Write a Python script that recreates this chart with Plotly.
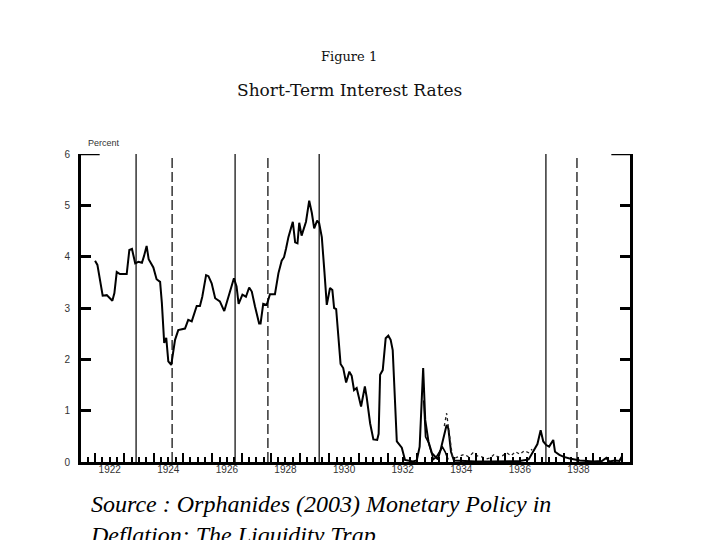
import plotly.graph_objects as go

# Main short-term rate (solid)
years_main = [1922.00, 1922.08, 1922.26, 1922.40, 1922.59, 1922.66, 1922.74, 1922.85,
              1923.08, 1923.17, 1923.26, 1923.37, 1923.48, 1923.60, 1923.67, 1923.76,
              1923.83, 1923.99, 1924.10, 1924.22, 1924.28, 1924.36, 1924.43, 1924.50,
              1924.60, 1924.73, 1924.84, 1925.07, 1925.18, 1925.30, 1925.47, 1925.58,
              1925.66, 1925.79, 1925.87, 1925.98, 1926.10, 1926.26, 1926.41, 1926.55,
              1926.74, 1926.83, 1926.90, 1927.03, 1927.15, 1927.26, 1927.35, 1927.46,
              1927.60, 1927.65, 1927.74, 1927.86, 1927.97, 1928.14, 1928.26, 1928.37,
              1928.45, 1928.52, 1928.60, 1928.75, 1928.83, 1928.91, 1928.97, 1929.05,
              1929.20, 1929.31, 1929.40, 1929.48, 1929.58, 1929.65, 1929.74, 1929.83,
              1929.91, 1930.02, 1930.10, 1930.16, 1930.23, 1930.38, 1930.47, 1930.57,
              1930.68, 1930.76, 1930.84, 1930.93, 1931.08, 1931.21, 1931.27, 1931.39,
              1931.50, 1931.63, 1931.68, 1931.73, 1931.82, 1931.92, 1932.01, 1932.09,
              1932.16, 1932.30, 1932.41, 1932.47, 1932.58, 1932.70, 1932.85, 1932.98,
              1933.08, 1933.15, 1933.20, 1933.27, 1933.38, 1933.50, 1933.60, 1933.70,
              1933.80, 1933.92, 1934.00, 1934.06, 1934.15, 1934.25, 1934.60, 1935.00,
              1935.50, 1936.00, 1936.50, 1936.80, 1936.95, 1937.10, 1937.21, 1937.30,
              1937.40, 1937.50, 1937.64, 1937.70, 1937.85, 1938.00, 1938.20, 1938.40,
              1938.55, 1938.80, 1939.00, 1939.30, 1939.45, 1939.55, 1939.75, 1939.90,
              1939.97]
rate_main = [3.92, 3.84, 3.24, 3.25, 3.14, 3.29, 3.70, 3.66,
             3.66, 4.13, 4.15, 3.87, 3.90, 3.88, 4.01, 4.21,
             3.95, 3.79, 3.56, 3.51, 3.10, 2.32, 2.42, 1.96,
             1.89, 2.38, 2.57, 2.60, 2.77, 2.74, 3.04, 3.04,
             3.22, 3.64, 3.62, 3.48, 3.19, 3.13, 2.94, 3.22,
             3.58, 3.42, 3.08, 3.26, 3.22, 3.40, 3.32, 3.03,
             2.70, 2.70, 3.08, 3.06, 3.27, 3.27, 3.68, 3.92,
             3.99, 4.16, 4.38, 4.68, 4.28, 4.26, 4.66, 4.41,
             4.68, 5.09, 4.85, 4.55, 4.70, 4.65, 4.38, 3.70,
             3.06, 3.39, 3.35, 3.00, 2.98, 1.91, 1.83, 1.55,
             1.76, 1.68, 1.40, 1.44, 1.08, 1.47, 1.27, 0.75,
             0.44, 0.43, 0.55, 1.70, 1.79, 2.41, 2.46, 2.38,
             2.18, 0.40, 0.32, 0.28, 0.04, 0.02, 0.01, 0.03,
             0.30, 1.20, 1.83, 0.82, 0.40, 0.17, 0.10, 0.05,
             0.25, 0.55, 0.72, 0.65, 0.20, 0.03, 0.02, 0.01,
             0.01, 0.02, 0.02, 0.05, 0.20, 0.35, 0.62, 0.40,
             0.33, 0.30, 0.43, 0.20, 0.14, 0.10, 0.07, 0.05,
             0.03, 0.02, 0.01, 0.02, 0.08, 0.01, 0.03, 0.02,
             0.10]

# Second solid series (1933-1934)
years_second = [1933.22, 1933.28, 1933.38, 1933.45, 1933.55, 1933.65, 1933.75, 1933.86, 1933.95, 1934.05]
rate_second = [1.20, 0.49, 0.38, 0.23, 0.05, 0.10, 0.20, 0.29, 0.20, 0.05]

# Dotted series (1934-1937)
years_dotted = [1933.92, 1934.00, 1934.08, 1934.20, 1934.30, 1934.45, 1934.60, 1934.75,
                1934.90, 1935.05, 1935.20, 1935.35, 1935.50, 1935.62, 1935.75, 1935.90,
                1936.05, 1936.20, 1936.35, 1936.50, 1936.65, 1936.80, 1936.92]
rate_dotted = [0.70, 0.95, 0.60, 0.10, 0.08, 0.12, 0.15, 0.10,
               0.18, 0.12, 0.10, 0.06, 0.08, 0.15, 0.10, 0.12,
               0.18, 0.12, 0.20, 0.15, 0.22, 0.18, 0.25]

# Business cycle dates
peaks = [1923.40, 1926.78, 1929.65, 1937.39]
troughs = [1924.63, 1927.90, 1938.45]

y_ticks = [0, 1, 2, 3, 4, 5, 6]
label_years = [1922, 1924, 1926, 1928, 1930, 1932, 1934, 1936, 1938]

x_range = [1921.52, 1940.26]

fig = go.Figure()
fig.add_trace(go.Scatter(x=years_main, y=rate_main, mode="lines",
                         line=dict(color="black", width=2), showlegend=False, hoverinfo="skip"))
fig.add_trace(go.Scatter(x=years_second, y=rate_second, mode="lines",
                         line=dict(color="black", width=1.6), showlegend=False, hoverinfo="skip"))
fig.add_trace(go.Scatter(x=years_dotted, y=rate_dotted, mode="lines",
                         line=dict(color="#222222", width=1.3, dash="dot"), showlegend=False, hoverinfo="skip"))
# invisible trace carrying the year-label axis
fig.add_trace(go.Scatter(x=[y + 0.5 for y in label_years], y=[None] * len(label_years),
                         xaxis="x2", mode="markers", showlegend=False, hoverinfo="skip"))

shapes = []
for p in peaks:
    shapes.append(dict(type="line", xref="x", yref="y", x0=p, x1=p, y0=0, y1=6,
                       line=dict(color="black", width=1.2)))
for t in troughs:
    shapes.append(dict(type="line", xref="x", yref="y", x0=t, x1=t, y0=0, y1=6,
                       line=dict(color="black", width=1.2, dash="10px,4px")))
# long ticks at the top of both y axes
shapes.append(dict(type="line", xref="paper", yref="y", x0=0, x1=0.034, y0=6, y1=6,
                   line=dict(color="black", width=2.5)))
shapes.append(dict(type="line", xref="paper", yref="y", x0=0.966, x1=1, y0=6, y1=6,
                   line=dict(color="black", width=2.5)))

# page offset (body margin) of 8 px is compensated in all positions
OFF = 8
annotations = [
    dict(text="Figure 1", x=349, y=56, xanchor="center", yanchor="middle",
         font=dict(family="DejaVu Serif", size=13, color="#111")),
    dict(text="Short-Term Interest Rates", x=349, y=90, xanchor="center", yanchor="middle",
         font=dict(family="DejaVu Serif", size=17, color="#111")),
    dict(text="Percent", x=86, y=143, xanchor="left", yanchor="middle",
         font=dict(family="Liberation Sans", size=9, color="#333")),
    dict(text="<i>Source : Orphanides (2003) Monetary Policy in<br>Deflation: The Liquidity Trap</i>",
         x=88, y=489, xanchor="left", yanchor="top", align="left",
         font=dict(family="Liberation Serif", size=24, color="black")),
]
W, H = 720 - OFF, 540 - OFF
L, R, T, B = 81 - OFF, 90, 154 - OFF, 78
pw, ph = W - L - R, H - T - B
for a in annotations:
    a["xref"] = "paper"
    a["yref"] = "paper"
    a["showarrow"] = False
    a["x"] = (a["x"] - OFF - L) / pw
    a["y"] = (H - B - (a["y"] - OFF)) / ph

fig.update_layout(
    width=W, height=H,
    margin=dict(l=L, r=R, t=T, b=B),
    paper_bgcolor="white", plot_bgcolor="white",
    shapes=shapes, annotations=annotations,
    xaxis=dict(range=x_range, showgrid=False, zeroline=False,
               showline=True, linecolor="black", linewidth=3,
               ticks="inside", tick0=1922, dtick=1, ticklen=9, tickwidth=2, tickcolor="black",
               showticklabels=False,
               minor=dict(ticks="inside", tick0=1922, dtick=0.25, ticklen=5, tickwidth=1.5,
                          tickcolor="black", showgrid=False)),
    xaxis2=dict(range=x_range, overlaying="x", anchor="y", side="bottom",
                showgrid=False, zeroline=False, showline=False, ticks="",
                tickmode="array", tickvals=[y + 0.5 for y in label_years],
                ticktext=[str(y) for y in label_years],
                tickfont=dict(family="Liberation Sans", size=10, color="#333")),
    yaxis=dict(range=[0, 6], showgrid=False, zeroline=False,
               showline=True, linecolor="black", linewidth=3, mirror="ticks",
               ticks="inside", tickvals=y_ticks, ticklen=10, tickwidth=2.5, tickcolor="black",
               ticklabelstandoff=6,
               tickfont=dict(family="Liberation Sans", size=10, color="#333")),
)

fig.write_html("out.html")
